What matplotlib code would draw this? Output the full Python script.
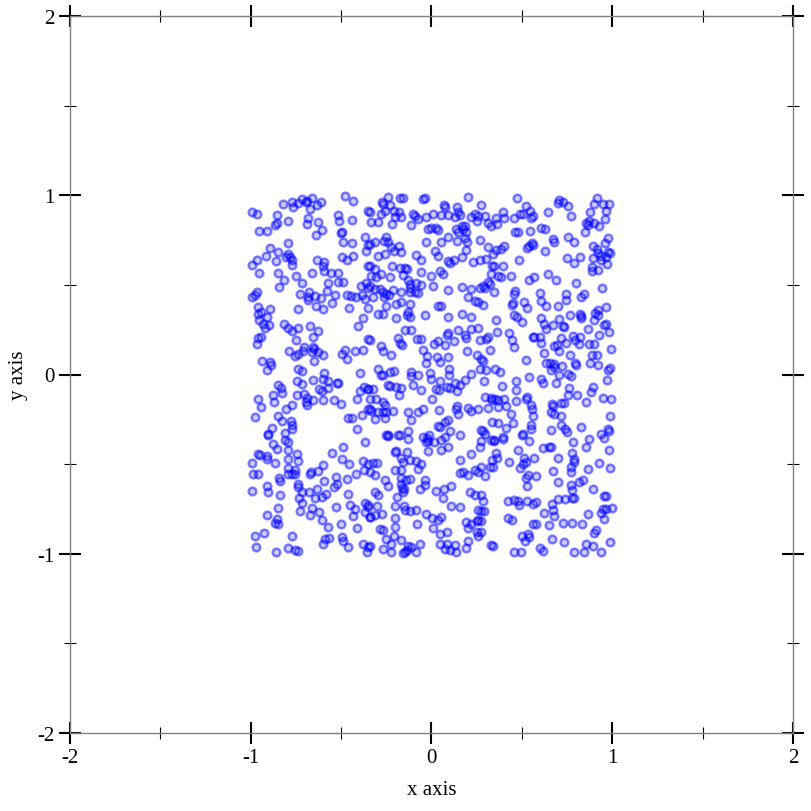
import numpy as np
import matplotlib
matplotlib.use("Agg")
import matplotlib.pyplot as plt
from matplotlib.ticker import MultipleLocator

plt.rcParams['font.family'] = ['Liberation Serif', 'DejaVu Serif']
plt.rcParams['axes.unicode_minus'] = False

# points, grouped by region (top row first, left to right)
pts_top_left = [
    (-0.995,0.905),(-0.967,0.895),(-0.955,0.802),(-0.908,0.799),(-0.857,0.890),(-0.853,0.843),(-0.866,0.836),(-0.820,0.951),
    (-0.774,0.964),(-0.764,0.933),(-0.737,0.957),(-0.718,0.979),(-0.691,0.970),(-0.663,0.985),(-0.696,0.964),(-0.672,0.923),
    (-0.635,0.946),(-0.611,0.964),(-0.685,0.871),(-0.691,0.840),(-0.626,0.853),(-0.608,0.808),(-0.641,0.780),(-0.792,0.858),
    (-0.515,0.890),(-0.510,0.858),(-0.479,0.994),(-0.432,0.966),(-0.349,0.910),(-0.438,0.864),(-0.493,0.797),(-0.501,0.789),
    (-0.488,0.741),(-0.438,0.734),(-0.368,0.769),(-0.349,0.723),(-0.362,0.687),(-0.796,0.734),(-0.894,0.706),(-0.847,0.682),
    (-0.796,0.672),(-0.783,0.654),(-0.774,0.641),(-0.805,0.654),(-0.916,0.659),(-0.862,0.635),(-0.967,0.639),(-0.995,0.611),
    (-0.955,0.566),(-0.851,0.564),(-0.814,0.527),(-0.844,0.486),(-0.774,0.611),(-0.752,0.551),(-0.715,0.509),(-0.663,0.564),
    (-0.635,0.639),(-0.593,0.630),(-0.602,0.603),(-0.595,0.579),(-0.556,0.564),(-0.519,0.564),(-0.515,0.518),(-0.491,0.514),
    (-0.574,0.511),(-0.497,0.654),(-0.469,0.641),(-0.432,0.663),(-0.349,0.607),(-0.580,0.468),(-0.534,0.445),(-0.469,0.444),
    (-0.445,0.436),(-0.418,0.431),(-0.383,0.444),(-0.362,0.509),(-0.390,0.496),(-0.349,0.481),(-0.676,0.462),(-0.685,0.431),
    (-0.728,0.449),(-0.645,0.436),(-0.611,0.425),(-0.685,0.417),(-0.639,0.380),(-0.598,0.365),(-0.549,0.399),(-0.455,0.371),
    (-0.368,0.421),(-0.349,0.371),(-0.967,0.458),(-0.995,0.431),(-0.977,0.444),(-0.958,0.375),(-0.894,0.365),(-0.737,0.365),
    (-0.943,0.347),
]
pts_top_mid = [
    (-0.342,0.909),(-0.268,0.951),(-0.274,0.964),(-0.240,0.989),(-0.231,0.946),(-0.281,0.895),(-0.259,0.914),(-0.207,0.914),
    (-0.181,0.905),(-0.176,0.983),(-0.157,0.983),(-0.166,0.877),(-0.203,0.877),(-0.218,0.840),(-0.296,0.853),(-0.336,0.853),
    (-0.102,0.895),(-0.093,0.886),(-0.111,0.834),(-0.047,0.979),(-0.034,0.983),(-0.074,0.868),(-0.028,0.877),(0.009,0.895),
    (0.055,0.890),(0.092,0.890),(0.070,0.946),(0.077,0.933),(0.143,0.933),(0.147,0.909),(0.156,0.890),(0.132,0.877),
    (0.203,0.989),(0.276,0.948),(0.221,0.877),(0.243,0.895),(0.258,0.886),(0.249,0.855),(0.295,0.886),(0.310,0.843),
    (-0.019,0.812),(0.000,0.816),(0.027,0.816),(0.036,0.808),(0.138,0.812),(0.147,0.793),(0.166,0.827),(0.184,0.827),
    (0.175,0.812),(0.193,0.793),(0.184,0.760),(0.199,0.737),(0.193,0.695),(0.143,0.747),(0.092,0.769),(0.055,0.737),
    (0.018,0.691),(0.036,0.663),(-0.028,0.741),(0.267,0.752),(0.313,0.710),(-0.250,0.765),(-0.262,0.747),(-0.240,0.741),
    (-0.314,0.741),(-0.342,0.728),(-0.222,0.710),(-0.207,0.691),(-0.166,0.685),(-0.181,0.715),(-0.259,0.672),(-0.296,0.663),
    (-0.083,0.667),(-0.056,0.641),(0.092,0.635),(0.101,0.622),(0.125,0.641),(0.169,0.654),(0.230,0.630),(0.267,0.639),
    (0.304,0.644),(0.332,0.607),(-0.342,0.607),(-0.314,0.589),(-0.333,0.551),(-0.305,0.542),(-0.277,0.561),(-0.218,0.607),
    (-0.176,0.594),(-0.148,0.594),(-0.133,0.589),(-0.157,0.555),(-0.130,0.529),(-0.120,0.505),(-0.120,0.481),(-0.231,0.542),
    (-0.056,0.570),(-0.004,0.548),(0.046,0.579),(0.064,0.561),(0.009,0.492),(-0.056,0.501),(-0.083,0.510),(-0.074,0.455),
    (-0.342,0.496),(-0.314,0.477),(-0.286,0.477),(-0.268,0.458),(-0.250,0.449),(-0.237,0.444),(-0.213,0.473),(-0.262,0.431),
    (-0.323,0.431),(-0.166,0.458),(-0.120,0.462),(-0.093,0.462),(-0.250,0.384),(-0.296,0.338),(-0.194,0.393),(-0.166,0.403),
    (-0.120,0.393),(0.036,0.384),(0.055,0.384),(0.092,0.473),(0.166,0.490),(0.221,0.477),(0.267,0.481),(0.286,0.496),
    (0.295,0.481),(0.310,0.514),(0.322,0.505),(0.203,0.431),(0.239,0.412),(0.258,0.403),(0.286,0.388),(-0.130,0.347),
]
pts_top_right = [
    (0.473,0.983),(0.523,0.938),(0.547,0.914),(0.560,0.886),(0.550,0.871),(0.504,0.895),(0.491,0.895),(0.458,0.871),
    (0.403,0.871),(0.394,0.909),(0.357,0.871),(0.362,0.840),(0.329,0.830),(0.462,0.793),(0.477,0.797),(0.547,0.799),
    (0.606,0.816),(0.628,0.812),(0.646,0.909),(0.707,0.975),(0.698,0.957),(0.726,0.961),(0.757,0.942),(0.772,0.886),
    (0.916,0.983),(0.901,0.951),(0.879,0.909),(0.947,0.951),(0.984,0.951),(0.966,0.910),(0.960,0.868),(0.855,0.843),
    (0.864,0.834),(0.873,0.855),(0.901,0.843),(0.929,0.827),(0.849,0.793),(0.670,0.756),(0.680,0.741),(0.753,0.765),
    (0.787,0.741),(0.975,0.762),(0.960,0.732),(0.892,0.719),(0.916,0.700),(0.923,0.678),(0.938,0.663),(0.975,0.685),
    (0.990,0.678),(0.966,0.654),(0.971,0.617),(0.403,0.719),(0.384,0.700),(0.357,0.696),(0.338,0.672),(0.528,0.704),
    (0.541,0.715),(0.560,0.723),(0.554,0.732),(0.628,0.691),(0.486,0.639),(0.750,0.650),(0.787,0.622),(0.823,0.654),
    (0.892,0.648),(0.938,0.641),(0.886,0.598),(0.886,0.579),(0.923,0.585),(0.347,0.607),(0.394,0.603),(0.329,0.561),
    (0.366,0.548),(0.384,0.542),(0.440,0.548),(0.541,0.529),(0.565,0.542),(0.643,0.561),(0.689,0.529),(0.799,0.510),
    (0.942,0.483),(0.347,0.458),(0.462,0.464),(0.458,0.449),(0.449,0.399),(0.443,0.388),(0.510,0.403),(0.528,0.373),
    (0.602,0.455),(0.606,0.412),(0.633,0.380),(0.698,0.384),(0.744,0.449),(0.744,0.416),(0.827,0.431),(0.842,0.449),
    (0.919,0.362),(0.966,0.378),(0.905,0.343),(0.823,0.338),
]
pts_mid_left = [
    (-0.958,0.340),(-0.912,0.321),(-0.955,0.302),(-0.931,0.284),(-0.899,0.278),(-0.921,0.260),(-0.943,0.210),(-0.958,0.204),
    (-0.967,0.169),(-0.814,0.284),(-0.792,0.260),(-0.740,0.262),(-0.774,0.241),(-0.672,0.271),(-0.626,0.241),(-0.654,0.210),
    (-0.752,0.191),(-0.704,0.154),(-0.709,0.130),(-0.737,0.117),(-0.755,0.103),(-0.788,0.131),(-0.654,0.154),(-0.648,0.144),
    (-0.663,0.126),(-0.630,0.126),(-0.598,0.111),(-0.650,0.076),(-0.940,0.076),(-0.894,0.070),(-0.888,0.051),(-0.912,0.027),
    (-0.740,0.033),(-0.718,0.018),(-0.595,0.010),(-0.598,-0.023),(-0.571,-0.038),(-0.525,-0.045),(-0.515,-0.045),(-0.746,-0.038),
    (-0.718,-0.051),(-0.657,-0.029),(-0.622,-0.079),(-0.571,-0.075),(-0.604,-0.092),(-0.497,0.117),(-0.479,0.139),(-0.469,0.089),
    (-0.423,0.130),(-0.377,0.139),(-0.405,0.271),(-0.377,0.317),(-0.349,0.196),(-0.395,0.010),(-0.372,-0.070),(-0.395,-0.092),
    (-0.349,-0.079),(-0.847,-0.060),(-0.833,-0.075),(-0.829,-0.101),(-0.875,-0.116),(-0.871,-0.153),(-0.958,-0.138),(-0.943,-0.181),
    (-0.742,-0.112),(-0.704,-0.107),(-0.691,-0.131),(-0.696,-0.153),(-0.687,-0.168),(-0.654,-0.140),(-0.598,-0.140),(-0.538,-0.144),
    (-0.502,-0.166),(-0.774,-0.168),(-0.807,-0.194),(-0.977,-0.237),(-0.847,-0.231),(-0.829,-0.261),(-0.777,-0.261),(-0.774,-0.283),
    (-0.770,-0.302),(-0.811,-0.324),(-0.903,-0.330),(-0.884,-0.298),(-0.464,-0.242),(-0.438,-0.242),(-0.386,-0.228),(-0.349,-0.194),
    (-0.414,-0.138),(-0.410,-0.306),
]
pts_center = [
    (-0.268,0.340),(-0.194,0.316),(-0.133,0.334),(-0.120,0.321),(-0.037,0.330),(0.092,0.321),(0.166,0.340),(0.221,0.321),
    (-0.342,0.191),(-0.281,0.159),(-0.268,0.130),(-0.226,0.111),(-0.185,0.204),(-0.176,0.178),(-0.161,0.163),(-0.144,0.247),
    (-0.111,0.247),(-0.078,0.200),(-0.056,0.200),(-0.047,0.135),(-0.023,0.103),(-0.028,0.066),(0.014,0.172),(0.036,0.185),
    (0.073,0.163),(0.088,0.223),(0.092,0.234),(0.125,0.185),(0.147,0.247),(0.184,0.223),(0.193,0.204),(0.221,0.256),
    (0.258,0.260),(0.199,0.130),(0.033,0.098),(0.046,0.070),(0.092,0.098),(0.249,0.107),(0.276,0.089),(0.286,0.074),
    (0.304,0.200),(0.313,0.210),(0.267,0.191),(0.322,0.135),(0.267,0.029),(0.304,0.023),(0.291,-0.038),(0.221,0.005),
    (0.184,-0.032),(0.156,-0.056),(0.132,-0.045),(0.143,-0.094),(0.101,-0.075),(0.083,-0.070),(0.046,-0.038),(0.027,-0.079),
    (0.040,-0.088),(-0.010,0.010),(-0.004,-0.023),(0.096,0.029),(0.099,-0.004),(-0.115,0.014),(-0.074,0.000),(-0.115,-0.010),
    (-0.102,-0.060),(-0.056,-0.088),(-0.296,0.033),(-0.281,0.000),(-0.268,-0.004),(-0.231,0.014),(-0.207,0.018),(-0.240,-0.056),
    (-0.231,-0.064),(-0.194,-0.070),(-0.170,-0.075),(-0.351,-0.079),(-0.323,-0.079),(-0.181,-0.116),(-0.342,-0.135),(-0.305,-0.138),
    (-0.268,-0.153),(-0.259,-0.168),(-0.342,-0.194),(-0.333,-0.205),(-0.296,-0.209),(-0.268,-0.209),(-0.250,-0.209),(-0.213,-0.205),
    (-0.130,-0.209),(-0.074,-0.209),(-0.047,-0.190),(0.003,-0.138),(0.040,-0.196),(0.134,-0.190),(0.143,-0.177),(0.147,-0.218),
    (0.203,-0.187),(0.217,-0.205),(0.258,-0.190),(0.310,-0.187),(0.295,-0.125),(0.332,-0.144),(-0.314,-0.250),(-0.259,-0.242),
    (-0.111,-0.256),(0.036,-0.287),(0.046,-0.293),(0.073,-0.265),(0.092,-0.256),(-0.240,-0.335),(-0.185,-0.335),(-0.130,-0.317),
    (-0.014,-0.339),(0.101,-0.317),(0.156,-0.339),(0.276,-0.311),(0.286,-0.317),(0.295,-0.330),(0.332,-0.265),
]
pts_mid_right = [
    (0.357,0.303),(0.362,0.237),(0.458,0.330),(0.473,0.321),(0.499,0.293),(0.430,0.234),(0.443,0.191),(0.458,0.154),
    (0.560,0.210),(0.569,0.210),(0.602,0.210),(0.606,0.178),(0.606,0.316),(0.624,0.284),(0.633,0.256),(0.670,0.275),
    (0.707,0.312),(0.726,0.271),(0.735,0.265),(0.768,0.330),(0.827,0.327),(0.827,0.316),(0.923,0.334),(0.868,0.252),
    (0.897,0.303),(0.956,0.275),(0.966,0.284),(0.929,0.223),(0.984,0.237),(0.716,0.204),(0.680,0.159),(0.694,0.163),
    (0.707,0.130),(0.621,0.122),(0.633,0.066),(0.657,0.066),(0.680,0.061),(0.680,0.042),(0.661,0.023),(0.720,0.048),
    (0.744,0.178),(0.781,0.215),(0.794,0.191),(0.823,0.210),(0.818,0.172),(0.873,0.172),(0.897,0.172),(0.993,0.144),
    (0.886,0.107),(0.916,0.111),(0.879,0.066),(0.923,0.051),(0.768,0.111),(0.794,0.066),(0.799,0.051),(0.523,0.083),
    (0.351,0.033),(0.381,0.014),(0.541,-0.014),(0.467,-0.038),(0.467,-0.088),(0.388,-0.064),(0.606,-0.027),(0.615,-0.045),
    (0.689,-0.047),(0.707,0.000),(0.757,0.005),(0.772,-0.008),(0.763,-0.075),(0.757,-0.112),(0.805,-0.112),(0.892,-0.070),
    (0.882,-0.097),(0.971,-0.032),(0.978,0.023),(0.990,0.036),(0.947,-0.131),(0.993,-0.138),(0.329,-0.131),(0.351,-0.138),
    (0.370,-0.144),(0.399,-0.138),(0.366,-0.181),(0.412,-0.176),(0.467,-0.149),(0.523,-0.138),(0.528,-0.125),(0.550,-0.172),
    (0.554,-0.194),(0.560,-0.231),(0.665,-0.163),(0.670,-0.176),(0.716,-0.157),(0.731,-0.157),(0.661,-0.209),(0.680,-0.218),
    (0.716,-0.231),(0.855,-0.153),(0.440,-0.218),(0.449,-0.269),(0.366,-0.269),(0.412,-0.298),(0.504,-0.330),(0.394,-0.349),
    (0.550,-0.283),(0.550,-0.302),(0.661,-0.311),(0.716,-0.283),(0.739,-0.302),(0.750,-0.321),(0.827,-0.293),(0.938,-0.330),
    (0.975,-0.306),(0.984,-0.317),(0.990,-0.231),
]
pts_bottom_left = [
    (-0.903,-0.338),(-0.875,-0.385),(-0.857,-0.416),(-0.811,-0.366),(-0.792,-0.375),(-0.792,-0.422),(-0.958,-0.444),(-0.949,-0.450),
    (-0.912,-0.453),(-0.912,-0.472),(-0.866,-0.491),(-0.995,-0.496),(-0.986,-0.556),(-0.962,-0.556),(-0.844,-0.580),(-0.838,-0.595),
    (-0.912,-0.621),(-0.903,-0.654),(-0.995,-0.649),(-0.838,-0.673),(-0.792,-0.524),(-0.796,-0.472),(-0.746,-0.444),(-0.740,-0.483),
    (-0.755,-0.530),(-0.792,-0.557),(-0.770,-0.556),(-0.755,-0.556),(-0.740,-0.613),(-0.740,-0.626),(-0.667,-0.546),(-0.672,-0.556),
    (-0.630,-0.537),(-0.598,-0.505),(-0.549,-0.440),(-0.488,-0.407),(-0.497,-0.472),(-0.456,-0.500),(-0.377,-0.483),(-0.368,-0.379),
    (-0.372,-0.530),(-0.349,-0.502),(-0.419,-0.557),(-0.469,-0.585),(-0.530,-0.571),(-0.593,-0.593),(-0.525,-0.613),(-0.538,-0.626),
    (-0.715,-0.658),(-0.733,-0.691),(-0.718,-0.716),(-0.676,-0.654),(-0.635,-0.636),(-0.645,-0.691),(-0.608,-0.682),(-0.586,-0.664),
    (-0.460,-0.664),(-0.663,-0.747),(-0.622,-0.766),(-0.672,-0.784),(-0.608,-0.809),(-0.728,-0.762),(-0.851,-0.742),(-0.912,-0.784),
    (-0.857,-0.807),(-0.866,-0.831),(-0.847,-0.836),(-0.530,-0.738),(-0.451,-0.729),(-0.423,-0.751),(-0.432,-0.788),(-0.368,-0.719),
    (-0.349,-0.738),(-0.340,-0.794),(-0.571,-0.850),(-0.501,-0.836),(-0.414,-0.855),(-0.368,-0.766),(-0.977,-0.902),(-0.925,-0.887),
    (-0.770,-0.900),(-0.973,-0.961),(-0.860,-0.989),(-0.792,-0.970),(-0.755,-0.980),(-0.737,-0.985),(-0.589,-0.918),(-0.598,-0.943),
    (-0.565,-0.911),(-0.497,-0.905),(-0.491,-0.929),(-0.460,-0.961),(-0.377,-0.948),(-0.349,-0.961),(-0.359,-0.990),
]
pts_bottom_mid = [
    (-0.240,-0.342),(-0.130,-0.360),(-0.047,-0.347),(-0.023,-0.357),(-0.028,-0.379),(0.014,-0.375),(0.055,-0.366),(0.073,-0.347),
    (0.092,-0.403),(0.055,-0.422),(-0.019,-0.427),(-0.133,-0.431),(-0.194,-0.427),(-0.203,-0.435),(-0.166,-0.464),(-0.157,-0.487),
    (-0.120,-0.478),(-0.083,-0.483),(-0.074,-0.528),(-0.056,-0.502),(-0.170,-0.533),(-0.203,-0.533),(-0.323,-0.491),(-0.299,-0.491),
    (-0.342,-0.543),(-0.314,-0.561),(-0.259,-0.589),(-0.240,-0.621),(-0.166,-0.580),(-0.139,-0.589),(-0.120,-0.584),(-0.166,-0.613),
    (-0.163,-0.632),(-0.152,-0.636),(-0.157,-0.654),(-0.314,-0.654),(-0.296,-0.673),(-0.189,-0.682),(-0.037,-0.589),(-0.034,-0.617),
    (-0.065,-0.636),(0.027,-0.650),(0.070,-0.639),(0.110,-0.621),(0.064,-0.688),(0.156,-0.478),(0.221,-0.446),(0.267,-0.403),
    (0.276,-0.371),(0.332,-0.478),(0.322,-0.515),(0.276,-0.515),(0.239,-0.533),(0.258,-0.543),(0.203,-0.561),(0.175,-0.546),
    (0.156,-0.552),(0.295,-0.565),(0.212,-0.658),(0.239,-0.673),(0.276,-0.673),(0.286,-0.706),(0.110,-0.732),(0.156,-0.738),
    (-0.351,-0.729),(-0.299,-0.732),(-0.342,-0.794),(-0.314,-0.784),(-0.274,-0.781),(-0.203,-0.734),(-0.152,-0.734),(-0.148,-0.757),
    (-0.120,-0.762),(-0.083,-0.757),(-0.028,-0.779),(0.003,-0.803),(0.036,-0.812),(0.055,-0.794),(-0.078,-0.836),(-0.200,-0.803),
    (-0.203,-0.850),(-0.286,-0.862),(-0.268,-0.868),(0.193,-0.825),(0.221,-0.836),(0.258,-0.812),(0.273,-0.818),(0.258,-0.757),
    (0.276,-0.762),(0.291,-0.762),(0.203,-0.859),(0.249,-0.881),(0.276,-0.877),(0.009,-0.859),(0.046,-0.892),(0.083,-0.877),
    (-0.207,-0.900),(-0.250,-0.915),(-0.222,-0.948),(-0.166,-0.924),(-0.130,-0.956),(-0.115,-0.963),(-0.133,-0.980),(-0.148,-0.993),
    (-0.083,-0.993),(-0.065,-0.943),(0.046,-0.946),(0.088,-0.943),(0.073,-0.976),(0.101,-0.980),(0.129,-0.952),(0.138,-0.989),
    (0.203,-0.929),(0.193,-0.970),(0.328,-0.952),(-0.342,-0.956),(-0.268,-0.974),(-0.226,-0.993),(-0.157,-0.995),(0.258,-0.900),
    (0.249,-0.818),(-0.019,-0.371),(-0.176,-0.338),(-0.250,-0.338),
]
pts_bottom_right = [
    (0.344,-0.366),(0.394,-0.360),(0.499,-0.338),(0.541,-0.371),(0.615,-0.412),(0.652,-0.403),(0.661,-0.403),(0.781,-0.375),
    (0.873,-0.360),(0.956,-0.353),(0.855,-0.403),(0.984,-0.422),(0.477,-0.422),(0.357,-0.440),(0.362,-0.468),(0.338,-0.515),
    (0.430,-0.487),(0.514,-0.468),(0.523,-0.487),(0.504,-0.502),(0.491,-0.520),(0.569,-0.464),(0.698,-0.464),(0.776,-0.440),
    (0.787,-0.472),(0.790,-0.487),(0.772,-0.515),(0.772,-0.546),(0.670,-0.539),(0.929,-0.491),(0.990,-0.520),(0.868,-0.528),
    (0.536,-0.561),(0.523,-0.580),(0.528,-0.623),(0.578,-0.565),(0.702,-0.598),(0.772,-0.617),(0.818,-0.598),(0.836,-0.589),
    (0.776,-0.645),(0.892,-0.639),(0.956,-0.677),(0.966,-0.677),(0.425,-0.706),(0.454,-0.701),(0.477,-0.706),(0.486,-0.729),
    (0.528,-0.706),(0.560,-0.725),(0.578,-0.714),(0.698,-0.697),(0.739,-0.697),(0.776,-0.691),(0.787,-0.691),(0.667,-0.725),
    (0.670,-0.757),(0.676,-0.788),(0.621,-0.770),(0.421,-0.803),(0.443,-0.812),(0.560,-0.836),(0.578,-0.836),(0.652,-0.840),
    (0.726,-0.831),(0.776,-0.827),(0.831,-0.836),(0.868,-0.781),(0.938,-0.770),(0.947,-0.751),(0.966,-0.751),(0.997,-0.742),
    (0.956,-0.807),(0.910,-0.868),(0.901,-0.887),(0.499,-0.900),(0.536,-0.892),(0.541,-0.905),(0.517,-0.929),(0.665,-0.915),
    (0.731,-0.937),(0.855,-0.943),(0.892,-0.956),(0.990,-0.933),(0.338,-0.956),(0.458,-0.990),(0.495,-0.988),(0.602,-0.967),
    (0.615,-0.985),(0.790,-0.990),(0.846,-0.989),(0.938,-0.990),(0.347,-0.371),(0.329,-0.366),
]

regions = [pts_top_left, pts_top_mid, pts_top_right,
           pts_mid_left, pts_center, pts_mid_right,
           pts_bottom_left, pts_bottom_mid, pts_bottom_right]
pts = np.array([p for r in regions for p in r])
xs, ys = pts[:, 0], pts[:, 1]

fig = plt.figure(figsize=(8.12, 8.12), dpi=100)
ax = fig.add_axes([70 / 812, 1 - 734 / 812, 723 / 812, 717 / 812])

ax.scatter(xs, ys, s=30, marker='o',
           facecolors=(0, 0, 1, 0.2), edgecolors=(0, 0, 1, 0.5), linewidths=1.8)

ax.set_xlim(-2, 2)
ax.set_ylim(-2, 2)

ax.xaxis.set_major_locator(MultipleLocator(1))
ax.yaxis.set_major_locator(MultipleLocator(1))
ax.xaxis.set_minor_locator(MultipleLocator(0.5))
ax.yaxis.set_minor_locator(MultipleLocator(0.5))

for s in ax.spines.values():
    s.set_color('#808080')
    s.set_linewidth(1.0)

ax.tick_params(which='major', direction='inout', length=16, width=1.5, color='black',
               top=True, right=True, labelsize=15, pad=3)
ax.tick_params(which='minor', direction='inout', length=8.5, width=0.8, color='black',
               top=True, right=True)

ax.set_xlabel('x axis', fontsize=15, labelpad=9)
ax.set_ylabel('y axis', fontsize=15, labelpad=7)

fig.savefig('out.png', dpi=100)
